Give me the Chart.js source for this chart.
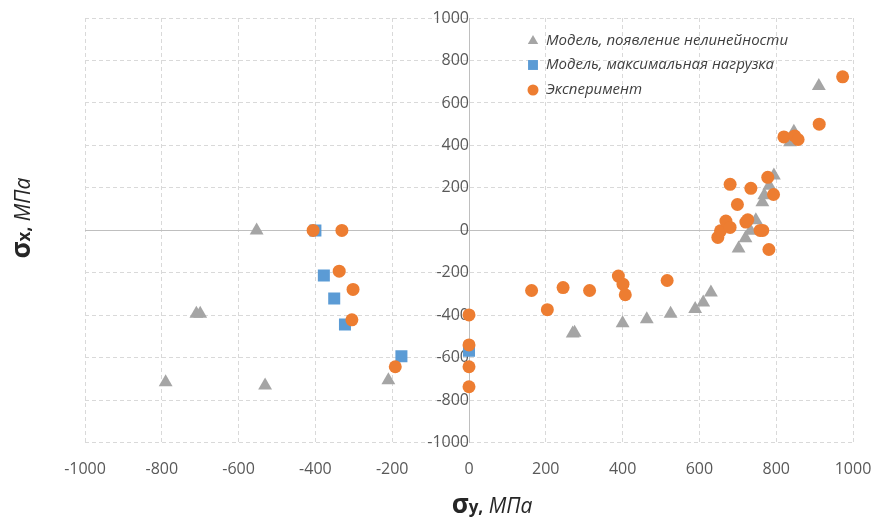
<!DOCTYPE html>
<html lang="ru">
<head>
<meta charset="UTF-8">
<title>σx – σy</title>
<script src="https://cdn.jsdelivr.net/npm/chart.js"></script>
<style>
    html, body { margin: 0; padding: 0; background: #fff; }
    #wrap { width: 883px; height: 520px; }
</style>
</head>
<body>
<div id="wrap"><canvas id="chart" width="883" height="520"></canvas></div>
<script>
// Модель, появление нелинейности
const onsetX = [-790, -710, -700, -553, -531, -210, 270, 275, 400, 463, 525, 589, 610, 630,
                702, 720, 733, 747, 764, 769, 782, 794, 836, 846, 911];
const onsetY = [-715, -393, -393, 0, -730, -705, -485, -482, -437, -418, -393, -370, -340, -292,
                -85, -37, -2, 48, 132, 165, 210, 259, 415, 465, 680];

// Модель, максимальная нагрузка
const maxLoadX = [-400, -378, -351, -323, -176, 0];
const maxLoadY = [0, -212, -321, -443, -593, -566];

// Эксперимент
const expX = [-406, -331, -338, -302, -305, -192, 0, 0, 0, 0,
              163, 204, 245, 314, 389, 401, 407, 516,
              648, 655, 669, 680, 680, 699, 721, 726, 734, 758, 765, 778, 781, 793,
              820, 848, 857, 912, 973];
const expY = [0, 0, -192, -278, -421, -642, -398, -539, -642, -736,
              -283, -373, -269, -283, -215, -253, -303, -236,
              -33, -2, 44, 14, 217, 122, 39, 50, 198, 0, 0, 250, -90, 169,
              440, 445, 428, 500, 723];

const seriesNames = ['Модель, появление нелинейности', 'Модель, максимальная нагрузка', 'Эксперимент'];
const axisTicks = [-1000, -800, -600, -400, -200, 0, 200, 400, 600, 800, 1000];

const toPoints = (xs, ys) => xs.map((x, i) => ({ x: x, y: ys[i] }));

const FONT = '"Open Sans", "Noto Sans", sans-serif';
const GRID = '#D9D9D9';
const ZERO = '#BFBFBF';

// grid: dashed, except the zero line which is solid
const gridColor = c => (c.tick && c.tick.value === 0) ? ZERO : GRID;
const gridDash = c => (c.tick && c.tick.value === 0) ? [] : [4, 3];
const plainLabel = v => String(v);

function marker(ctx, style, x, y, r) {
    ctx.beginPath();
    if (style === 'triangle') {
        ctx.moveTo(x, y - r);
        ctx.lineTo(x + r * 0.866, y + r / 2);
        ctx.lineTo(x - r * 0.866, y + r / 2);
        ctx.closePath();
    } else if (style === 'rect') {
        const s = r * Math.SQRT1_2;
        ctx.rect(x - s, y - s, 2 * s, 2 * s);
    } else {
        ctx.arc(x, y, r, 0, Math.PI * 2);
    }
    ctx.fill();
}

// text made of several pieces with different fonts, centred on (cx, cy)
function drawRich(ctx, parts, cx, cy, angle) {
    ctx.save();
    ctx.translate(cx, cy);
    ctx.rotate(angle);
    let total = 0;
    parts.forEach(p => { ctx.font = p.font; p.w = ctx.measureText(p.text).width; total += p.w; });
    let x = -total / 2;
    ctx.textBaseline = 'alphabetic';
    ctx.textAlign = 'left';
    ctx.fillStyle = '#262626';
    parts.forEach(p => {
        ctx.font = p.font;
        ctx.fillText(p.text, x, p.dy || 8);
        x += p.w;
    });
    ctx.restore();
}

const legendAndTitles = {
    id: 'legendAndTitles',
    afterDraw(chart) {
        const ctx = chart.ctx;
        // legend inside the plot
        const rows = [41, 65, 90];
        const sizes = [6, 7, 5.5];
        chart.data.datasets.forEach((ds, i) => {
            ctx.fillStyle = ds.backgroundColor;
            marker(ctx, ds.pointStyle, 533, rows[i], sizes[i]);
            ctx.font = 'italic 15px ' + FONT;
            ctx.fillStyle = '#404040';
            ctx.textBaseline = 'middle';
            ctx.textAlign = 'left';
            ctx.fillText(ds.label, 546, rows[i]);
        });
        // axis titles
        drawRich(ctx, [
            { text: 'σ', font: 'bold 26px ' + FONT },
            { text: 'y,', font: 'bold 17px ' + FONT },
            { text: ' МПа', font: 'italic 21px ' + FONT }
        ], 492, 505, 0);
        drawRich(ctx, [
            { text: 'σ', font: 'bold 26px ' + FONT },
            { text: 'x,', font: 'bold 17px ' + FONT },
            { text: ' МПа', font: 'italic 21px ' + FONT }
        ], 22, 218, -Math.PI / 2);
    }
};

new Chart(document.getElementById('chart').getContext('2d'), {
    type: 'scatter',
    data: {
        datasets: [
            {
                label: seriesNames[0],
                data: toPoints(onsetX, onsetY),
                pointStyle: 'triangle',
                pointRadius: 8,
                borderWidth: 0,
                backgroundColor: '#A5A5A5',
                borderColor: '#A5A5A5',
                order: 3
            },
            {
                label: seriesNames[1],
                data: toPoints(maxLoadX, maxLoadY),
                pointStyle: 'rect',
                pointRadius: 8.5,
                borderWidth: 0,
                backgroundColor: '#5B9BD5',
                borderColor: '#5B9BD5',
                order: 2
            },
            {
                label: seriesNames[2],
                data: toPoints(expX, expY),
                pointStyle: 'circle',
                pointRadius: 6.5,
                borderWidth: 0,
                backgroundColor: '#ED7D31',
                borderColor: '#ED7D31',
                order: 1
            }
        ]
    },
    options: {
        responsive: false,
        animation: false,
        events: [],
        layout: { padding: { left: 85, right: 30, top: 18, bottom: 38 } },
        scales: {
            x: {
                type: 'linear',
                position: 'bottom',
                min: axisTicks[0],
                max: axisTicks[axisTicks.length - 1],
                afterBuildTicks: s => { s.ticks = axisTicks.map(v => ({ value: v })); },
                ticks: { color: '#595959', font: { family: FONT, size: 16 }, padding: 3, maxRotation: 0, autoSkip: false, callback: plainLabel },
                grid: { color: gridColor, drawTicks: true, tickLength: 14, tickColor: 'rgba(0,0,0,0)' },
                border: { display: false, dash: gridDash }
            },
            y: {
                type: 'linear',
                position: { x: 0 },
                min: axisTicks[0],
                max: axisTicks[axisTicks.length - 1],
                afterBuildTicks: s => { s.ticks = axisTicks.map(v => ({ value: v })); },
                ticks: { color: '#595959', font: { family: FONT, size: 16 }, padding: 7, autoSkip: false, callback: plainLabel },
                grid: { color: gridColor, drawTicks: false },
                border: { display: true, color: ZERO, dash: gridDash }
            }
        },
        plugins: {
            legend: { display: false },
            tooltip: { enabled: false }
        }
    },
    plugins: [legendAndTitles]
});
</script>
</body>
</html>
